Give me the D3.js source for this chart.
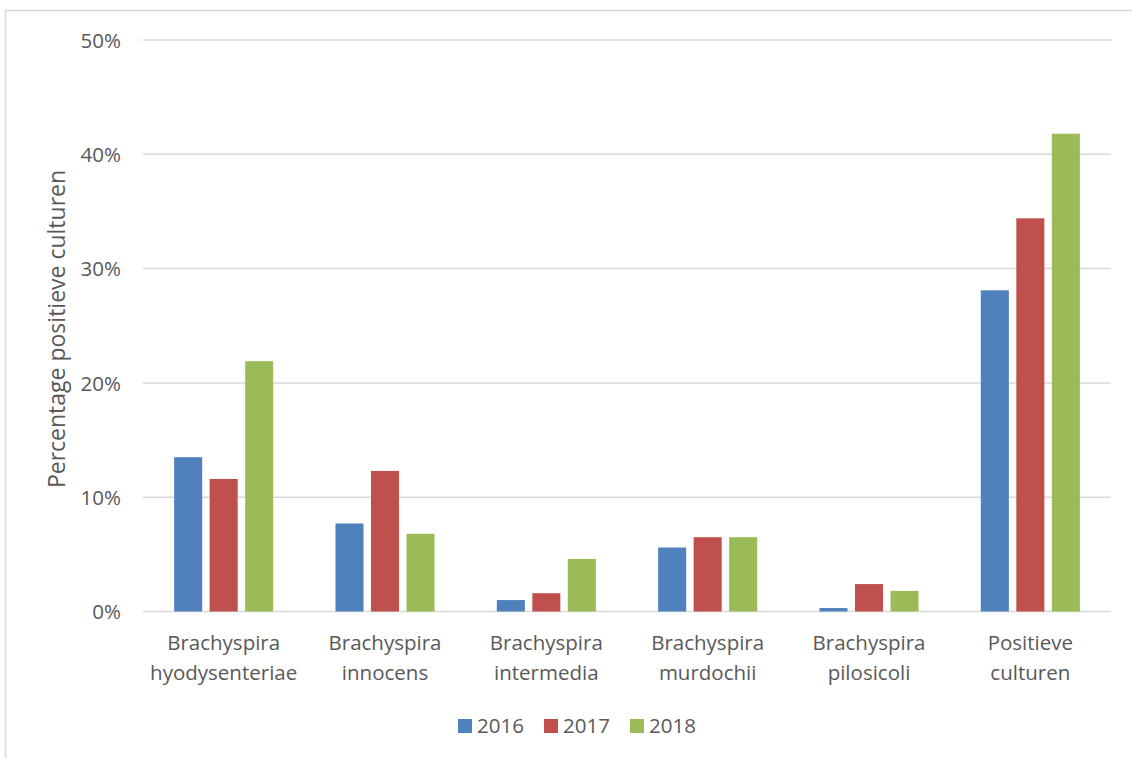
<!DOCTYPE html>
<html><head><meta charset="utf-8">
<script src="https://cdn.jsdelivr.net/npm/d3@7"></script>
<style>body{margin:0;background:#fff;} text{font-family:"Open Sans",sans-serif;fill:#595959;}</style>
</head><body>
<svg id="c" width="1132" height="758"></svg>
<script>
const categories = [["Brachyspira","hyodysenteriae"],["Brachyspira","innocens"],["Brachyspira","intermedia"],["Brachyspira","murdochii"],["Brachyspira","pilosicoli"],["Positieve","culturen"]];
const years = ["2016","2017","2018"];
const values2016 = [13.5, 7.7, 1.0, 5.6, 0.3, 28.1];
const values2017 = [11.6, 12.3, 1.6, 6.5, 2.4, 34.4];
const values2018 = [21.9, 6.8, 4.6, 6.5, 1.8, 41.8];
const yTicks = [0, 10, 20, 30, 40, 50];
const colors = ["#4F81BD", "#C0504D", "#9BBB59"];
const seriesValues = [values2016, values2017, values2018];

(function(){
const svg = d3.select("#c");
svg.append("rect").attr("x",5.5).attr("y",10.5).attr("width",1140).attr("height",760)
  .attr("fill","#fff").attr("stroke","#d9d9d9").attr("stroke-width",1.5);

const pL = 143, pR = 1111, pT = 40, pB = 611.5;
const y = d3.scaleLinear().domain([0,50]).range([pB, pT]);
const keys = categories.map((c,i)=>i);
const x0 = d3.scaleBand().domain(keys).range([pL,pR]).padding(0);
const x1 = d3.scaleBand().domain(years).range([0, x0.bandwidth()]).paddingInner(0.21).paddingOuter(0.877);

svg.append("g").selectAll("line").data(yTicks).join("line")
  .attr("x1",pL).attr("x2",pR).attr("y1",d=>y(d)).attr("y2",d=>y(d))
  .attr("stroke","#d9d9d9").attr("stroke-width",1.5);

const yAxis = d3.axisLeft(y).tickValues(yTicks).tickFormat(d=>d+"%").tickSize(0).tickPadding(0);
const ga = svg.append("g").attr("transform",`translate(121,0)`).call(yAxis);
ga.attr("font-size",null).attr("font-family",null);
ga.select(".domain").remove();
ga.selectAll("text").style("font-size","20.5px").style("font-family","'Open Sans',sans-serif").attr("fill","#595959").attr("dy","0.35em");

const groups = svg.append("g").selectAll("g").data(keys).join("g")
  .attr("transform",d=>`translate(${x0(d)},0)`);
groups.selectAll("rect").data(i=>years.map((yr,j)=>({yr, j, v:seriesValues[j][i]}))).join("rect")
  .attr("x",d=>x1(d.yr)).attr("width",x1.bandwidth())
  .attr("y",d=>y(d.v)).attr("height",d=>pB-y(d.v))
  .attr("fill",d=>colors[d.j]);

const cl = svg.append("g").selectAll("text").data(keys).join("text")
  .attr("x",d=>x0(d)+x0.bandwidth()/2).attr("y",650).attr("text-anchor","middle")
  .style("font-size","20.5px");
cl.each(function(d){
  const t = d3.select(this);
  categories[d].forEach((s,k)=>t.append("tspan").attr("x",x0(d)+x0.bandwidth()/2).attr("dy",k?29.5:0).text(s));
});

svg.append("text").attr("transform","translate(65,329) rotate(-90)").attr("text-anchor","middle")
  .style("font-size","23px").text("Percentage positieve culturen");

const legX = [458, 544, 630];
const lg = svg.append("g").selectAll("g").data(years).join("g")
  .attr("transform",(d,i)=>`translate(${legX[i]},719)`);
lg.append("rect").attr("width",14).attr("height",14).attr("fill",(d,i)=>colors[i]);
lg.append("text").attr("x",19).attr("y",7).attr("dy","0.36em").style("font-size","20.5px").text(d=>d);
})();
</script>
</body></html>
